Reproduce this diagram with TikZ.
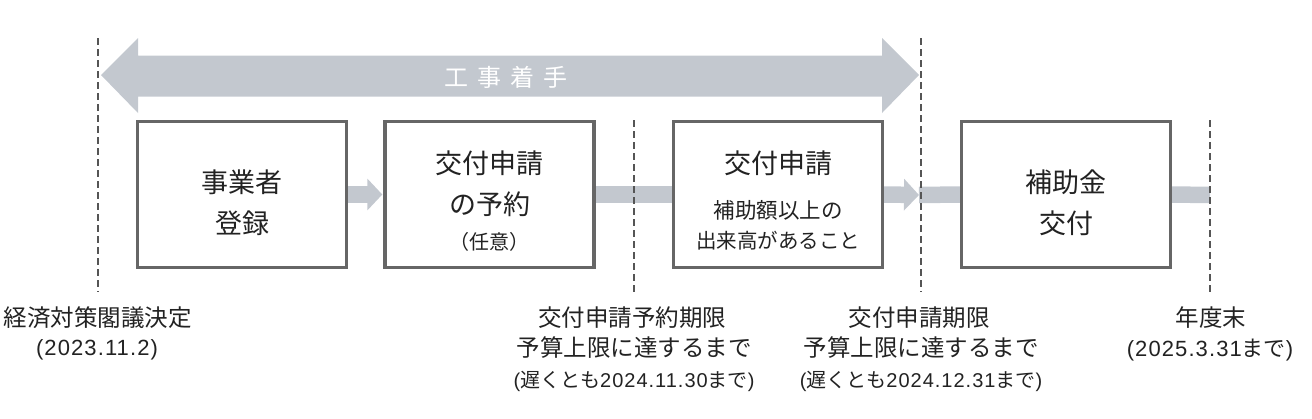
\documentclass[tikz,border=0pt]{standalone}
\usepackage{fontspec}
\setmainfont{Noto Sans CJK JP}
\newfontfamily\latinf[LetterSpace=5]{Liberation Sans}
\usetikzlibrary{arrows.meta}
\definecolor{bandc}{HTML}{C3C8CF}
\definecolor{boxc}{HTML}{666666}
\definecolor{dashc}{HTML}{555555}
\definecolor{txtc}{HTML}{222222}
\newcommand{\lt}[1]{{\latinf #1}}
\tikzset{
  stagebox/.style={draw=boxc, line width=2.4pt, fill=white, minimum width=208pt, minimum height=145pt, inner sep=0pt},
  band/.style={draw=bandc, line width=16.5pt},
  bandtip/.style={-{Triangle[length=15pt,width=31pt]}},
  dline/.style={draw=dashc, line width=1.8pt, dash pattern=on 7pt off 4pt},
  bigtxt/.style={text=txtc, font=\fontsize{27}{31}\selectfont, inner sep=0pt},
  midtxt/.style={text=txtc, font=\fontsize{23.5}{28}\selectfont, inner sep=0pt},
  smalltxt/.style={text=txtc, font=\fontsize{20}{24}\selectfont, inner sep=0pt},
}
\begin{document}
\begin{tikzpicture}[x=1pt,y=-1pt]
\useasboundingbox (0,0) rectangle (1312,418);
% big double arrow
\fill[bandc] (101,75) -- (138,38) -- (138,55.5) -- (882,55.5) -- (882,38) -- (919,75) -- (882,113) -- (882,96.5) -- (138,96.5) -- (138,113) -- cycle;
\node[text=white, font=\fontsize{24}{28}\selectfont, inner sep=0pt] (kouji) at (506,77) {工\hspace{9pt}事\hspace{9pt}着\hspace{9pt}手};
% boxes
\node[stagebox] (b1) at (242,194.5) {};
\node[stagebox] (b2) at (489.5,194.5) {};
\node[stagebox] (b3) at (778,194.5) {};
\node[stagebox] (b4) at (1066,194.5) {};
% dashed coordinates
\coordinate (d1t) at (98,38); \coordinate (d1b) at (98,292);
\coordinate (d2t) at (634,120); \coordinate (d2b) at (634,292);
\coordinate (d3t) at (921,38); \coordinate (d3b) at (921,292);
\coordinate (d4t) at (1210,120); \coordinate (d4b) at (1210,292);
\coordinate (tip3) at (919,195);
\coordinate (end4) at (1210,195);
% connectors
\draw[band, bandtip, shorten >=2pt] (b1.east) -- (b2.west);
\draw[band] (b2.east) -- (b3.west);
\draw[band, bandtip] (b3.east) -- (tip3);
\draw[band] (tip3) -- (b4.west);
\draw[band] (b4.east) -- (end4);
% redraw box borders on top
\foreach \b in {b1,b2,b3,b4} \draw[boxc, line width=2.4pt] (\b.north west) rectangle (\b.south east);
% dashed lines
\draw[dline] (d1t) -- (d1b);
\draw[dline] (d2t) -- (d2b);
\draw[dline] (d3t) -- (d3b);
\draw[dline] (d4t) -- (d4b);
% box texts
\node[bigtxt] (t1a) at (242,182) {事業者};
\node[bigtxt] (t1b) at (242,223) {登録};
\node[bigtxt] (t2a) at (489.5,163) {交付申請};
\node[bigtxt] (t2b) at (489.5,204) {の予約};
\node[smalltxt] (t2c) at (489.5,242) {（任意）};
\node[bigtxt] (t3a) at (778,163) {交付申請};
\node[smalltxt, font=\fontsize{21.5}{25}\selectfont] (t3b) at (778,210) {補助額以上の};
\node[smalltxt, font=\fontsize{20.5}{25}\selectfont] (t3c) at (778,241) {出来高があること};
\node[bigtxt] (t4a) at (1066,182) {補助金};
\node[bigtxt] (t4b) at (1066,223) {交付};
% bottom labels
\node[midtxt] (l1a) at (98,318) {経済対策閣議決定};
\node[midtxt, font=\fontsize{22}{26}\selectfont] (l1b) at (97,350) {\lt{(2023.11.2)}};
\node[midtxt] (l2a) at (632,318) {交付申請予約期限};
\node[midtxt] (l2b) at (634,348) {予算上限に達するまで};
\node[smalltxt] (l2c) at (634,381) {\lt{(}遅くとも\lt{2024.11.30}まで\lt{)}};
\node[midtxt] (l3a) at (919,318) {交付申請期限};
\node[midtxt] (l3b) at (921,348) {予算上限に達するまで};
\node[smalltxt] (l3c) at (921,381) {\lt{(}遅くとも\lt{2024.12.31}まで\lt{)}};
\node[midtxt] (l4a) at (1211,318) {年度末};
\node[midtxt, font=\fontsize{22}{26}\selectfont] (l4b) at (1210,350) {\lt{(2025.3.31}まで\lt{)}};
\end{tikzpicture}
\end{document}
